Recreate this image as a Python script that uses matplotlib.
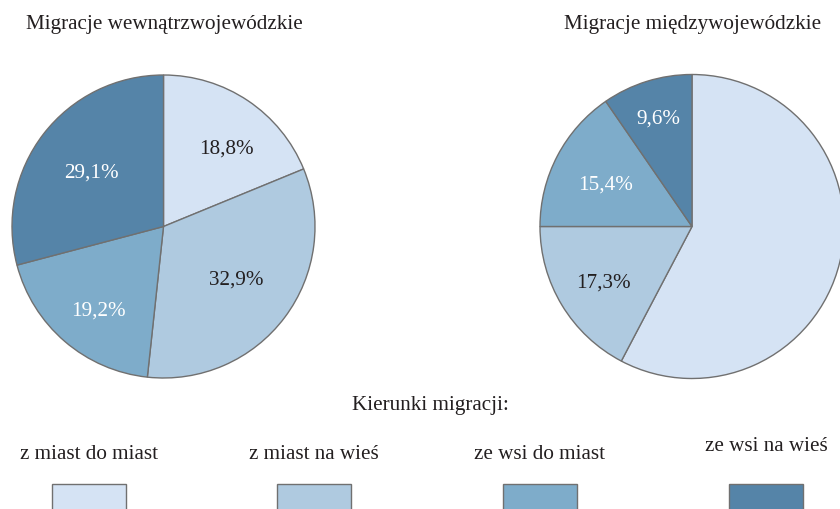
import matplotlib
matplotlib.use("Agg")
import matplotlib.pyplot as plt
from matplotlib.patches import Rectangle
import numpy as np

plt.rcParams['font.family'] = ['Liberation Serif', 'DejaVu Serif']

categories = ["z miast do miast", "z miast na wieś", "ze wsi do miast", "ze wsi na wieś"]
intra_values = [18.8, 32.9, 19.2, 29.1]
inter_values = [57.7, 17.3, 15.4, 9.6]
titles = ["Migracje wewnątrzwojewódzkie", "Migracje międzywojewódzkie"]
legend_title = "Kierunki migracji:"

colors = ["#d5e3f4", "#afcae0", "#7eacca", "#5584a8"]
text_colors = ["#231f20", "#231f20", "white", "white"]
edge = "#707070"
FS = 15.2

W, H = 840, 510
fig = plt.figure(figsize=(W / 100, H / 100), dpi=100)
ax = fig.add_axes([0, 0, 1, 1])

def fmt(p):
    return ("%.1f%%" % p).replace(".", ",")

def draw_pie(values, cx, cy, r, dists, shifts, hide_first=False):
    wedges, texts, autotexts = ax.pie(
        values, colors=colors, startangle=90, counterclock=False,
        center=(cx, H - cy), radius=r, autopct=fmt, pctdistance=0.65,
        wedgeprops=dict(edgecolor=edge, linewidth=1.0),
        textprops=dict(fontsize=FS))
    for i, (w, t) in enumerate(zip(wedges, autotexts)):
        t.set_color(text_colors[i])
        ang = np.deg2rad((w.theta1 + w.theta2) / 2 + shifts[i])
        t.set_position((cx + dists[i] * r * np.cos(ang), H - cy + dists[i] * r * np.sin(ang)))
        if hide_first and i == 0:
            t.set_visible(False)
    return wedges

draw_pie(intra_values, 163.5, 227.5, 151.5,
         [0.663, 0.595, 0.695, 0.594], [-5.0, 1.0, 2.8, 0.5])
draw_pie(inter_values, 692, 227.5, 152,
         [0.65, 0.688, 0.633, 0.746], [0.0, 1.0, 1.6, 0.0], hide_first=True)

ax.set_xlim(0, W)
ax.set_ylim(0, H)
ax.set_aspect('auto')
ax.axis('off')

ax.text(164, H - 29, titles[0], ha='center', va='baseline', fontsize=FS, color="#231f20")
ax.text(693, H - 29, titles[1], ha='center', va='baseline', fontsize=FS, color="#231f20")

ax.text(430, H - 410, legend_title, ha='center', va='baseline', fontsize=FS, color="#231f20")
leg_x = [89, 314, 540, 766]
leg_base = [459, 459, 459, 451]
for i, cat in enumerate(categories):
    ax.text(leg_x[i], H - leg_base[i], cat, ha='center', va='baseline', fontsize=FS, color="#231f20")
    ax.add_patch(Rectangle((leg_x[i] - 37, H - 512), 74, 27, facecolor=colors[i],
                           edgecolor=edge, linewidth=1.0, clip_on=True))

fig.savefig("out.png", dpi=100)
